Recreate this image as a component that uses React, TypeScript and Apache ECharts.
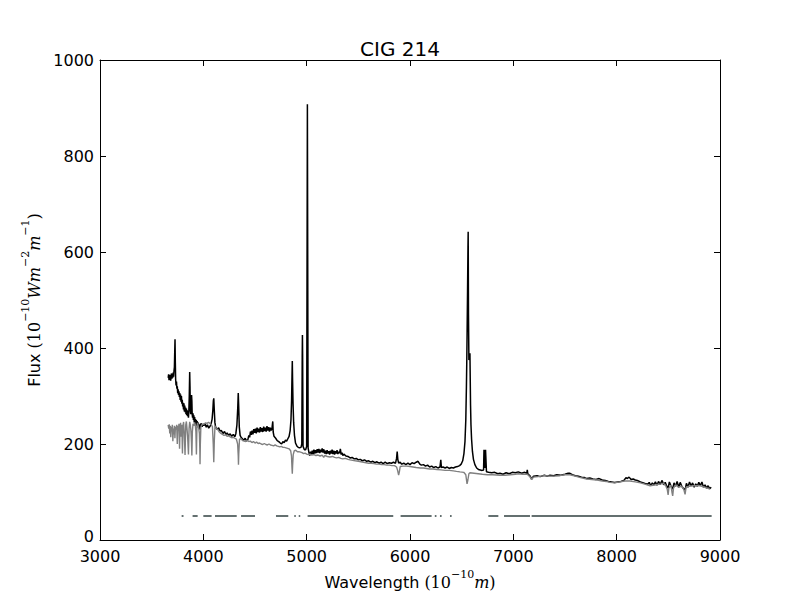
import React, { useEffect, useRef } from "react";
import * as echarts from "echarts";

const titleText = "CIG 214";
const xTicks = { min: 3000, max: 9000, interval: 1000 };
const yTicks = { min: 0, max: 1000, interval: 200 };

const blackSpectrum: [number, number][] = [
  [3660, 338], [3664, 345], [3668, 333], [3672, 342], [3676, 336], [3680, 344], [3684, 332], [3688, 340],
  [3692, 347], [3696, 336], [3700, 344], [3704, 338], [3708, 349], [3712, 340], [3716, 352], [3720, 360],
  [3723, 390], [3726, 418], [3729, 370], [3732, 335], [3736, 322], [3740, 330], [3744, 315], [3748, 320],
  [3752, 306], [3756, 314], [3760, 302], [3764, 310], [3768, 298], [3772, 306], [3776, 292], [3780, 303],
  [3784, 288], [3788, 300], [3792, 284], [3796, 292], [3800, 278], [3804, 286], [3808, 272], [3812, 285],
  [3816, 268], [3820, 280], [3824, 266], [3828, 276], [3832, 262], [3836, 274], [3840, 260], [3844, 270],
  [3848, 258], [3852, 268], [3856, 255], [3860, 270], [3864, 300], [3868, 350], [3871, 320], [3874, 270],
  [3878, 262], [3882, 280], [3886, 302], [3889, 290], [3892, 262], [3896, 255], [3900, 264], [3904, 250],
  [3908, 260], [3912, 245], [3916, 256], [3920, 240], [3924, 252], [3928, 242], [3932, 250], [3936, 238],
  [3940, 248], [3944, 236], [3948, 245], [3952, 234], [3956, 242], [3960, 232], [3964, 240], [3968, 230],
  [3972, 240], [3980, 243], [3988, 236], [3996, 242], [4006, 238], [4016, 243], [4028, 235], [4040, 240],
  [4052, 233], [4065, 237], [4075, 242], [4085, 252], [4092, 270], [4097, 290], [4101, 295], [4106, 270],
  [4112, 245], [4118, 236], [4126, 233], [4136, 230], [4148, 234], [4161, 227], [4175, 228], [4190, 222],
  [4205, 226], [4218, 220], [4230, 223], [4245, 218], [4260, 221], [4275, 216], [4290, 220], [4305, 215],
  [4315, 222], [4325, 240], [4333, 275], [4338, 306], [4342, 280], [4348, 235], [4356, 218], [4365, 214],
  [4378, 211], [4390, 208], [4405, 212], [4419, 206], [4432, 210], [4440, 218], [4448, 214], [4456, 226],
  [4464, 219], [4472, 228], [4480, 220], [4488, 231], [4496, 223], [4504, 232], [4512, 222], [4520, 234],
  [4528, 225], [4536, 232], [4544, 224], [4552, 235], [4560, 226], [4568, 233], [4576, 225], [4584, 236],
  [4592, 227], [4600, 234], [4608, 226], [4616, 237], [4624, 228], [4632, 235], [4640, 226], [4648, 234],
  [4656, 228], [4664, 232], [4672, 247], [4676, 225], [4684, 216], [4700, 212], [4715, 207], [4730, 205],
  [4745, 202], [4758, 200], [4770, 205], [4782, 203], [4795, 208], [4806, 206], [4818, 211], [4830, 216],
  [4840, 228], [4848, 250], [4854, 290], [4858, 340], [4861, 373], [4864, 330], [4868, 285], [4874, 245],
  [4882, 218], [4892, 202], [4905, 196], [4918, 193], [4930, 192], [4945, 193], [4953, 200], [4957, 380],
  [4959, 427], [4961, 380], [4965, 195], [4978, 188], [4990, 188], [5000, 195], [5004, 600], [5007, 908],
  [5010, 600], [5014, 192], [5022, 182], [5030, 176], [5038, 184], [5046, 178], [5054, 186], [5062, 179],
  [5070, 188], [5078, 180], [5086, 187], [5094, 181], [5102, 189], [5110, 182], [5118, 190], [5126, 181],
  [5134, 188], [5142, 183], [5150, 191], [5158, 182], [5166, 189], [5174, 180], [5182, 186], [5190, 179],
  [5198, 187], [5206, 180], [5214, 185], [5222, 178], [5230, 186], [5238, 180], [5246, 188], [5254, 179],
  [5262, 186], [5270, 178], [5278, 185], [5286, 180], [5294, 187], [5302, 179], [5310, 184], [5318, 181],
  [5326, 190], [5334, 178], [5342, 182], [5350, 176], [5360, 179], [5380, 175], [5400, 174], [5420, 171],
  [5440, 172], [5460, 169], [5480, 170], [5500, 167], [5520, 168], [5540, 165], [5560, 167], [5581, 164],
  [5600, 165], [5620, 162], [5640, 164], [5660, 161], [5680, 163], [5700, 160], [5720, 162], [5740, 159],
  [5760, 162], [5780, 159], [5800, 161], [5820, 160], [5840, 162], [5860, 160], [5870, 170], [5876, 184],
  [5882, 168], [5890, 160], [5905, 162], [5920, 158], [5940, 160], [5960, 157], [5980, 160], [6000, 157],
  [6020, 161], [6040, 159], [6060, 162], [6078, 164], [6095, 158], [6110, 156], [6130, 157], [6150, 154],
  [6170, 156], [6190, 152], [6210, 154], [6230, 151], [6250, 153], [6270, 150], [6290, 152], [6298, 167],
  [6304, 151], [6320, 152], [6340, 150], [6360, 152], [6380, 149], [6400, 151], [6420, 150], [6440, 152],
  [6460, 153], [6480, 155], [6495, 158], [6510, 165], [6522, 180], [6532, 205], [6540, 250], [6546, 320],
  [6549, 365], [6552, 420], [6557, 520], [6561, 610], [6563, 642], [6566, 470], [6570, 375], [6575, 380],
  [6580, 389], [6584, 389], [6586, 280], [6590, 240], [6596, 210], [6604, 185], [6614, 168], [6628, 157],
  [6645, 150], [6662, 147], [6680, 146], [6698, 145], [6712, 146], [6716, 188], [6722, 188], [6726, 150],
  [6731, 188], [6735, 188], [6740, 142], [6760, 141], [6790, 140], [6820, 141], [6850, 138], [6871, 139],
  [6900, 137], [6930, 140], [6960, 138], [6990, 141], [7020, 140], [7048, 142], [7080, 139], [7110, 141],
  [7130, 139], [7135, 146], [7140, 138], [7160, 134], [7177, 127], [7195, 133], [7230, 134], [7260, 132],
  [7300, 135], [7330, 133], [7355, 135], [7390, 134], [7420, 136], [7460, 135], [7500, 137], [7530, 139],
  [7548, 139], [7570, 136], [7600, 134], [7630, 133], [7660, 131], [7690, 130], [7710, 128], [7740, 129],
  [7770, 127], [7800, 126], [7830, 128], [7860, 125], [7890, 124], [7920, 122], [7950, 121], [7980, 120],
  [8010, 121], [8040, 122], [8070, 124], [8090, 130], [8100, 128], [8120, 131], [8140, 126], [8160, 127],
  [8180, 125], [8200, 124], [8230, 121], [8260, 119], [8285, 117], [8300, 116], [8315, 120], [8330, 113],
  [8345, 119], [8360, 115], [8375, 121], [8390, 114], [8405, 122], [8420, 116], [8440, 124], [8455, 115],
  [8470, 120], [8485, 112], [8498, 108], [8510, 121], [8525, 113], [8542, 106], [8555, 119], [8570, 112],
  [8585, 122], [8600, 110], [8615, 120], [8630, 112], [8645, 108], [8662, 104], [8675, 118], [8690, 110],
  [8705, 121], [8720, 113], [8735, 119], [8750, 110], [8765, 117], [8780, 112], [8795, 120], [8810, 113],
  [8825, 121], [8840, 110], [8855, 115], [8870, 108], [8885, 113], [8900, 107], [8915, 110],
];

const graySpectrum: [number, number][] = [
  [3660, 240], [3665, 232], [3670, 241], [3675, 222], [3680, 238], [3685, 214], [3690, 236], [3695, 226],
  [3700, 240], [3705, 206], [3710, 232], [3715, 220], [3720, 238], [3725, 212], [3730, 236], [3736, 230],
  [3742, 240], [3748, 200], [3753, 238], [3758, 228], [3764, 242], [3770, 190], [3775, 236], [3780, 244],
  [3786, 215], [3792, 240], [3798, 180], [3803, 238], [3809, 246], [3815, 225], [3823, 177], [3830, 240],
  [3836, 247], [3842, 232], [3848, 215], [3856, 178], [3862, 232], [3868, 246], [3874, 240], [3880, 228],
  [3885, 205], [3889, 176], [3894, 226], [3900, 242], [3908, 238], [3915, 245], [3922, 240], [3928, 226],
  [3933, 178], [3938, 236], [3944, 244], [3950, 238], [3956, 232], [3962, 222], [3966, 190], [3968, 158],
  [3971, 200], [3976, 235], [3985, 240], [3998, 241], [4010, 242], [4022, 244], [4035, 243], [4050, 245],
  [4065, 243], [4078, 240], [4088, 236], [4096, 200], [4101, 162], [4106, 205], [4113, 238], [4125, 232],
  [4140, 230], [4155, 225], [4170, 222], [4185, 220], [4200, 218], [4215, 219], [4230, 216], [4245, 217],
  [4260, 215], [4275, 213], [4290, 214], [4305, 212], [4320, 210], [4332, 200], [4338, 175], [4340, 157],
  [4343, 180], [4350, 210], [4365, 211], [4380, 207], [4395, 206], [4410, 205], [4425, 208], [4440, 205],
  [4455, 206], [4470, 203], [4485, 205], [4500, 202], [4515, 204], [4530, 201], [4545, 202], [4560, 200],
  [4575, 199], [4590, 201], [4605, 199], [4620, 198], [4635, 200], [4650, 198], [4665, 197], [4680, 196],
  [4695, 198], [4710, 196], [4725, 195], [4740, 194], [4755, 195], [4770, 193], [4785, 193], [4800, 192],
  [4815, 191], [4830, 190], [4845, 186], [4853, 175], [4858, 150], [4861, 138], [4864, 155], [4870, 178],
  [4880, 186], [4895, 187], [4910, 184], [4925, 184], [4940, 183], [4955, 182], [4970, 180], [4985, 181],
  [5000, 179], [5015, 178], [5032, 179], [5050, 177], [5070, 178], [5090, 176], [5110, 177], [5130, 175],
  [5150, 177], [5165, 172], [5175, 176], [5200, 174], [5225, 173], [5250, 174], [5270, 172], [5290, 171],
  [5310, 172], [5330, 170], [5350, 169], [5375, 170], [5400, 168], [5420, 167], [5445, 166], [5470, 165],
  [5500, 164], [5525, 163], [5550, 162], [5575, 161], [5600, 160], [5625, 160], [5650, 159], [5675, 158],
  [5700, 158], [5725, 157], [5750, 157], [5775, 156], [5800, 156], [5825, 155], [5850, 155], [5870, 152],
  [5880, 145], [5890, 135], [5897, 142], [5905, 153], [5930, 154], [5968, 154], [6000, 153], [6030, 152],
  [6060, 151], [6100, 150], [6130, 150], [6160, 149], [6190, 148], [6223, 148], [6260, 147], [6300, 146],
  [6340, 145], [6380, 145], [6419, 144], [6450, 143], [6484, 142], [6520, 141], [6540, 136], [6552, 117],
  [6560, 125], [6570, 138], [6580, 140], [6620, 139], [6660, 138], [6700, 137], [6750, 136], [6800, 136],
  [6871, 135], [6920, 135], [6970, 136], [7020, 137], [7048, 138], [7090, 137], [7135, 137], [7160, 132],
  [7177, 126], [7195, 131], [7240, 132], [7300, 134], [7355, 133], [7400, 133], [7450, 134], [7500, 136],
  [7548, 136], [7600, 133], [7650, 130], [7710, 127], [7760, 126], [7810, 125], [7860, 123], [7900, 122],
  [7935, 120], [7980, 119], [8030, 121], [8080, 123], [8129, 123], [8180, 121], [8230, 119], [8280, 116],
  [8323, 113], [8380, 115], [8430, 117], [8452, 118], [8475, 113], [8490, 105], [8498, 94], [8505, 108],
  [8525, 114], [8535, 100], [8542, 92], [8550, 108], [8570, 115], [8600, 110], [8630, 112], [8650, 105],
  [8662, 95], [8672, 110], [8700, 112], [8750, 113], [8806, 113], [8850, 110], [8903, 106],
];

const maskLevel = 50;
const maskSegments: [number, number][] = [
  [3790, 3808], [3896, 3945], [4000, 4080], [4113, 4323], [4365, 4500], [4703, 4822], [4880, 4895],
  [4923, 4938], [5009, 5838], [5909, 6209], [6240, 6256], [6290, 6306], [6387, 6403], [6758, 6855],
  [6910, 7161], [7177, 8919],
];

export default function App() {
  const ref = useRef<HTMLDivElement>(null);
  useEffect(() => {
    if (!ref.current) return;
    const chart = echarts.init(ref.current, undefined, { renderer: "svg" });

    const maskData: any[] = [];
    maskSegments.forEach(([a, b]) => {
      maskData.push([a, maskLevel], [b, maskLevel], [null, null]);
    });

    const sans = "DejaVu Sans";
    const serif = "DejaVu Serif";
    const rich = {
      a: { fontFamily: sans, fontSize: 16, color: "#000", verticalAlign: "bottom", lineHeight: 22 },
      b: { fontFamily: serif, fontSize: 16, color: "#000", verticalAlign: "bottom", lineHeight: 22 },
      i: { fontFamily: serif, fontStyle: "italic", fontSize: 16, color: "#000", verticalAlign: "bottom", lineHeight: 22 },
      s: { fontFamily: serif, fontSize: 11, color: "#000", verticalAlign: "top", lineHeight: 12 },
    };

    const axisLine = { show: true, onZero: false, lineStyle: { color: "#000", width: 1 } };
    const tick = { show: true, inside: true, length: 6, lineStyle: { color: "#000", width: 1 } };
    const label = { fontFamily: sans, fontSize: 16, color: "#000", formatter: (v: number) => String(v) };

    chart.setOption({
      animation: false,
      backgroundColor: "#fff",
      title: {
        text: titleText,
        left: "center",
        top: 34,
        textStyle: { fontFamily: sans, fontSize: 20, fontWeight: "normal", color: "#000" },
      },
      grid: { left: 100, right: 80, top: 60, bottom: 60, containLabel: false },
      xAxis: [
        {
          type: "value",
          ...xTicks,
          position: "bottom",
          axisLine,
          axisTick: tick,
          splitLine: { show: false },
          axisLabel: { ...label, margin: 8, lineHeight: 16 },
          name: "{a|Wavelength }{b|(10}{s|−10}{i|m}{b|)}",
          nameLocation: "middle",
          nameGap: 23,
          nameTextStyle: { rich },
        },
        {
          type: "value",
          ...xTicks,
          position: "top",
          axisLine,
          axisTick: tick,
          splitLine: { show: false },
          axisLabel: { show: false },
        },
      ],
      yAxis: [
        {
          type: "value",
          ...yTicks,
          position: "left",
          axisLine,
          axisTick: tick,
          splitLine: { show: false },
          axisLabel: {
            ...label,
            margin: 6,
            lineHeight: 13,
            formatter: (v: number) => (v === 0 ? "{z|0}" : String(v)),
            rich: { z: { fontFamily: sans, fontSize: 16, color: "#000", padding: [0, 0, 7, 0] } },
          },
          name: "{a|Flux }{b|(10}{s|−10}{i|Wm}{s|−2}{i|m}{s|−1}{b|)}",
          nameLocation: "middle",
          nameRotate: 90,
          nameGap: 52,
          nameTextStyle: { rich },
        },
        {
          type: "value",
          ...yTicks,
          position: "right",
          axisLine,
          axisTick: tick,
          splitLine: { show: false },
          axisLabel: { show: false },
        },
      ],
      series: [
        {
          type: "line",
          data: blackSpectrum,
          showSymbol: false,
          lineStyle: { color: "#000", width: 1.5 },
          z: 2,
        },
        {
          type: "line",
          data: graySpectrum,
          showSymbol: false,
          lineStyle: { color: "#808080", width: 1.4 },
          z: 3,
        },
        {
          type: "line",
          data: maskData,
          showSymbol: false,
          connectNulls: false,
          lineStyle: { color: "#647070", width: 2, cap: "butt" },
          z: 4,
        },
      ],
    });
    return () => chart.dispose();
  }, []);
  return <div ref={ref} style={{ width: 800, height: 600, position: "absolute", left: 0, top: 0 }} />;
}
